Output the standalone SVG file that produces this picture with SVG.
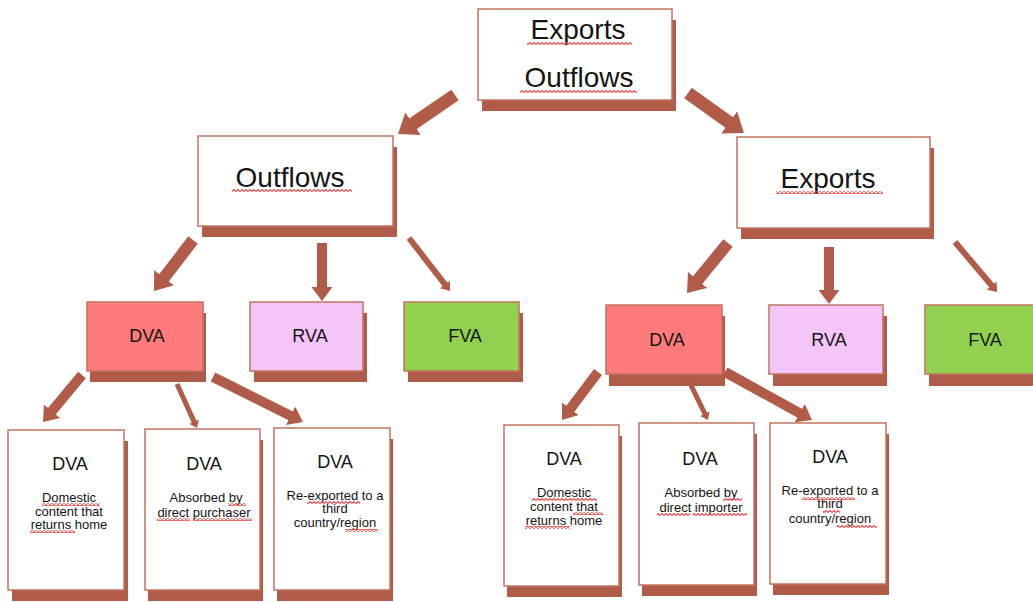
<svg xmlns="http://www.w3.org/2000/svg" width="1033" height="602" viewBox="0 0 1033 602">
<style>
.sh{fill:#b05c48}
.bx{stroke:#c47462;stroke-width:1.5}
.w{fill:#fff}
.dva{fill:#ff7b7b}
.rva{fill:#f5c4f8}
.fva{fill:#92d050}
.t{font-family:"Liberation Sans",Arial,sans-serif;fill:#141414;text-anchor:middle}
.big{font-size:28px}
.mid{font-size:18px}
.sm{font-size:13px}
.ar{stroke:#b05c48;fill:none;marker-end:url(#ah)}
.sq{fill:url(#wave)}
</style>
<defs>
<marker id="ah" viewBox="0 0 10 10" refX="4.3" refY="5" markerWidth="1.4" markerHeight="2.1" orient="auto" markerUnits="strokeWidth" preserveAspectRatio="none">
<path d="M0,0 L10,5 L0,10 z" fill="#b05c48"/>
</marker>
<pattern id="wave" width="4" height="3" patternUnits="userSpaceOnUse">
<path d="M0,2.5 L2,0.5 L4,2.5" fill="none" stroke="#f04848" stroke-width="1.1"/>
</pattern>
</defs>

<g id="top">
<rect class="sh" x="482" y="20" width="194" height="91"/>
<rect class="bx w" x="478" y="9" width="194" height="91"/>
<text class="t big" x="578" y="39">Exports</text>
<text class="t big" x="579" y="87">Outflows</text>
<rect class="sq" x="527" y="42" width="105" height="3"/>
<rect class="sq" x="520" y="90" width="117" height="3"/>
</g>

<g id="outflows">
<rect class="sh" x="202" y="147" width="195" height="90"/>
<rect class="bx w" x="198" y="136" width="195" height="90"/>
<text class="t big" x="290" y="187">Outflows</text>
<rect class="sq" x="232" y="189" width="120" height="3"/>
</g>

<g id="exports">
<rect class="sh" x="741" y="148" width="193" height="91"/>
<rect class="bx w" x="737" y="137" width="193" height="91"/>
<text class="t big" x="828" y="188">Exports</text>
<rect class="sq" x="776" y="191" width="107" height="3"/>
</g>

<g id="l-dva">
<rect class="sh" x="90" y="313" width="116" height="69"/>
<rect class="bx dva" x="87" y="302" width="116" height="69"/>
<text class="t mid" x="147" y="342">DVA</text>
</g>
<g id="l-rva">
<rect class="sh" x="254" y="313" width="113" height="69"/>
<rect class="bx rva" x="250" y="302" width="113" height="69"/>
<text class="t mid" x="310" y="342">RVA</text>
</g>
<g id="l-fva">
<rect class="sh" x="408" y="313" width="115" height="69"/>
<rect class="bx fva" x="404" y="302" width="115" height="69"/>
<text class="t mid" x="465" y="342">FVA</text>
</g>

<g id="r-dva">
<rect class="sh" x="609" y="316" width="116" height="70"/>
<rect class="bx dva" x="606" y="305" width="116" height="69"/>
<text class="t mid" x="667" y="346">DVA</text>
</g>
<g id="r-rva">
<rect class="sh" x="773" y="316" width="114" height="70"/>
<rect class="bx rva" x="769" y="305" width="114" height="69"/>
<text class="t mid" x="829" y="346">RVA</text>
</g>
<g id="r-fva">
<rect class="sh" x="929" y="316" width="115" height="70"/>
<rect class="bx fva" x="925" y="305" width="115" height="69"/>
<text class="t mid" x="985" y="346">FVA</text>
</g>

<g id="l-dva-home">
<rect class="sh" x="12" y="441" width="116" height="160"/>
<rect class="bx w" x="8" y="430" width="116" height="160"/>
<text class="t mid" x="70" y="470">DVA</text>
<text class="t sm" x="69" y="502">Domestic</text>
<text class="t sm" x="69" y="516">content that</text>
<text class="t sm" x="69" y="529">returns home</text>
<rect class="sq" x="42" y="503" width="58" height="3"/>
<rect class="sq" x="30" y="530" width="45" height="3"/>
</g>
<g id="l-dva-purchaser">
<rect class="sh" x="148" y="440" width="115" height="161"/>
<rect class="bx w" x="145" y="429" width="115" height="161"/>
<text class="t mid" x="204" y="470">DVA</text>
<text class="t sm" x="206" y="502">Absorbed by</text>
<text class="t sm" x="204" y="517">direct purchaser</text>
<rect class="sq" x="228" y="503" width="18" height="3"/>
<rect class="sq" x="157" y="518" width="33" height="3"/>
<rect class="sq" x="193" y="518" width="59" height="3"/>
</g>
<g id="l-dva-third">
<rect class="sh" x="277" y="439" width="116" height="162"/>
<rect class="bx w" x="274" y="428" width="116" height="162"/>
<text class="t mid" x="335" y="468">DVA</text>
<text class="t sm" x="335" y="500">Re-exported to a</text>
<text class="t sm" x="335" y="513">third</text>
<text class="t sm" x="335" y="527">country/region</text>
<rect class="sq" x="307" y="501" width="53" height="3"/>
<rect class="sq" x="345" y="529" width="33" height="3"/>
</g>

<g id="r-dva-home">
<rect class="sh" x="507" y="436" width="115" height="161"/>
<rect class="bx w" x="504" y="425" width="115" height="161"/>
<text class="t mid" x="564" y="465">DVA</text>
<text class="t sm" x="564" y="497">Domestic</text>
<text class="t sm" x="564" y="511">content that</text>
<text class="t sm" x="564" y="525">returns home</text>
<rect class="sq" x="532" y="498" width="65" height="3"/>
<rect class="sq" x="573" y="512" width="30" height="3"/>
<rect class="sq" x="525" y="526" width="45" height="3"/>
</g>
<g id="r-dva-importer">
<rect class="sh" x="642" y="434" width="115" height="162"/>
<rect class="bx w" x="639" y="423" width="115" height="162"/>
<text class="t mid" x="700" y="465">DVA</text>
<text class="t sm" x="701" y="497">Absorbed by</text>
<text class="t sm" x="701" y="512">direct importer</text>
<rect class="sq" x="723" y="498" width="19" height="3"/>
<rect class="sq" x="657" y="513" width="33" height="3"/>
<rect class="sq" x="693" y="513" width="54" height="3"/>
</g>
<g id="r-dva-third">
<rect class="sh" x="773" y="434" width="116" height="161"/>
<rect class="bx w" x="770" y="423" width="116" height="161"/>
<text class="t mid" x="830" y="463">DVA</text>
<text class="t sm" x="830" y="495">Re-exported to a</text>
<text class="t sm" x="830" y="508">third</text>
<text class="t sm" x="830" y="523">country/region</text>
<rect class="sq" x="802" y="497" width="53" height="3"/>
<rect class="sq" x="823" y="510" width="17" height="3"/>
<rect class="sq" x="837" y="525" width="40" height="3"/>
</g>

<g id="connectors">
<line class="ar" stroke-width="13" x1="455" y1="95" x2="406.6" y2="128.1"/>
<line class="ar" stroke-width="13" x1="688" y1="93" x2="735.5" y2="127"/>
<line class="ar" stroke-width="12" x1="193" y1="240" x2="159.8" y2="283.4"/>
<line class="ar" stroke-width="10" x1="322" y1="243" x2="322" y2="293"/>
<line class="ar" stroke-width="6" x1="409" y1="238" x2="447.1" y2="287.2"/>
<line class="ar" stroke-width="12" x1="728" y1="243" x2="693.1" y2="285.6"/>
<line class="ar" stroke-width="10" x1="829" y1="247" x2="829" y2="296"/>
<line class="ar" stroke-width="6" x1="955" y1="242" x2="994" y2="288.3"/>
<line class="ar" stroke-width="10" x1="82" y1="375" x2="48.1" y2="415.8"/>
<line class="ar" stroke-width="5" x1="177" y1="384" x2="195.3" y2="424.4"/>
<line class="ar" stroke-width="10" x1="213" y1="377" x2="295.8" y2="418.4"/>
<line class="ar" stroke-width="10" x1="598" y1="372" x2="566.8" y2="413.6"/>
<line class="ar" stroke-width="5" x1="687" y1="377" x2="706.2" y2="416.4"/>
<line class="ar" stroke-width="10" x1="725" y1="372" x2="805" y2="416.1"/>
</g>
</svg>
